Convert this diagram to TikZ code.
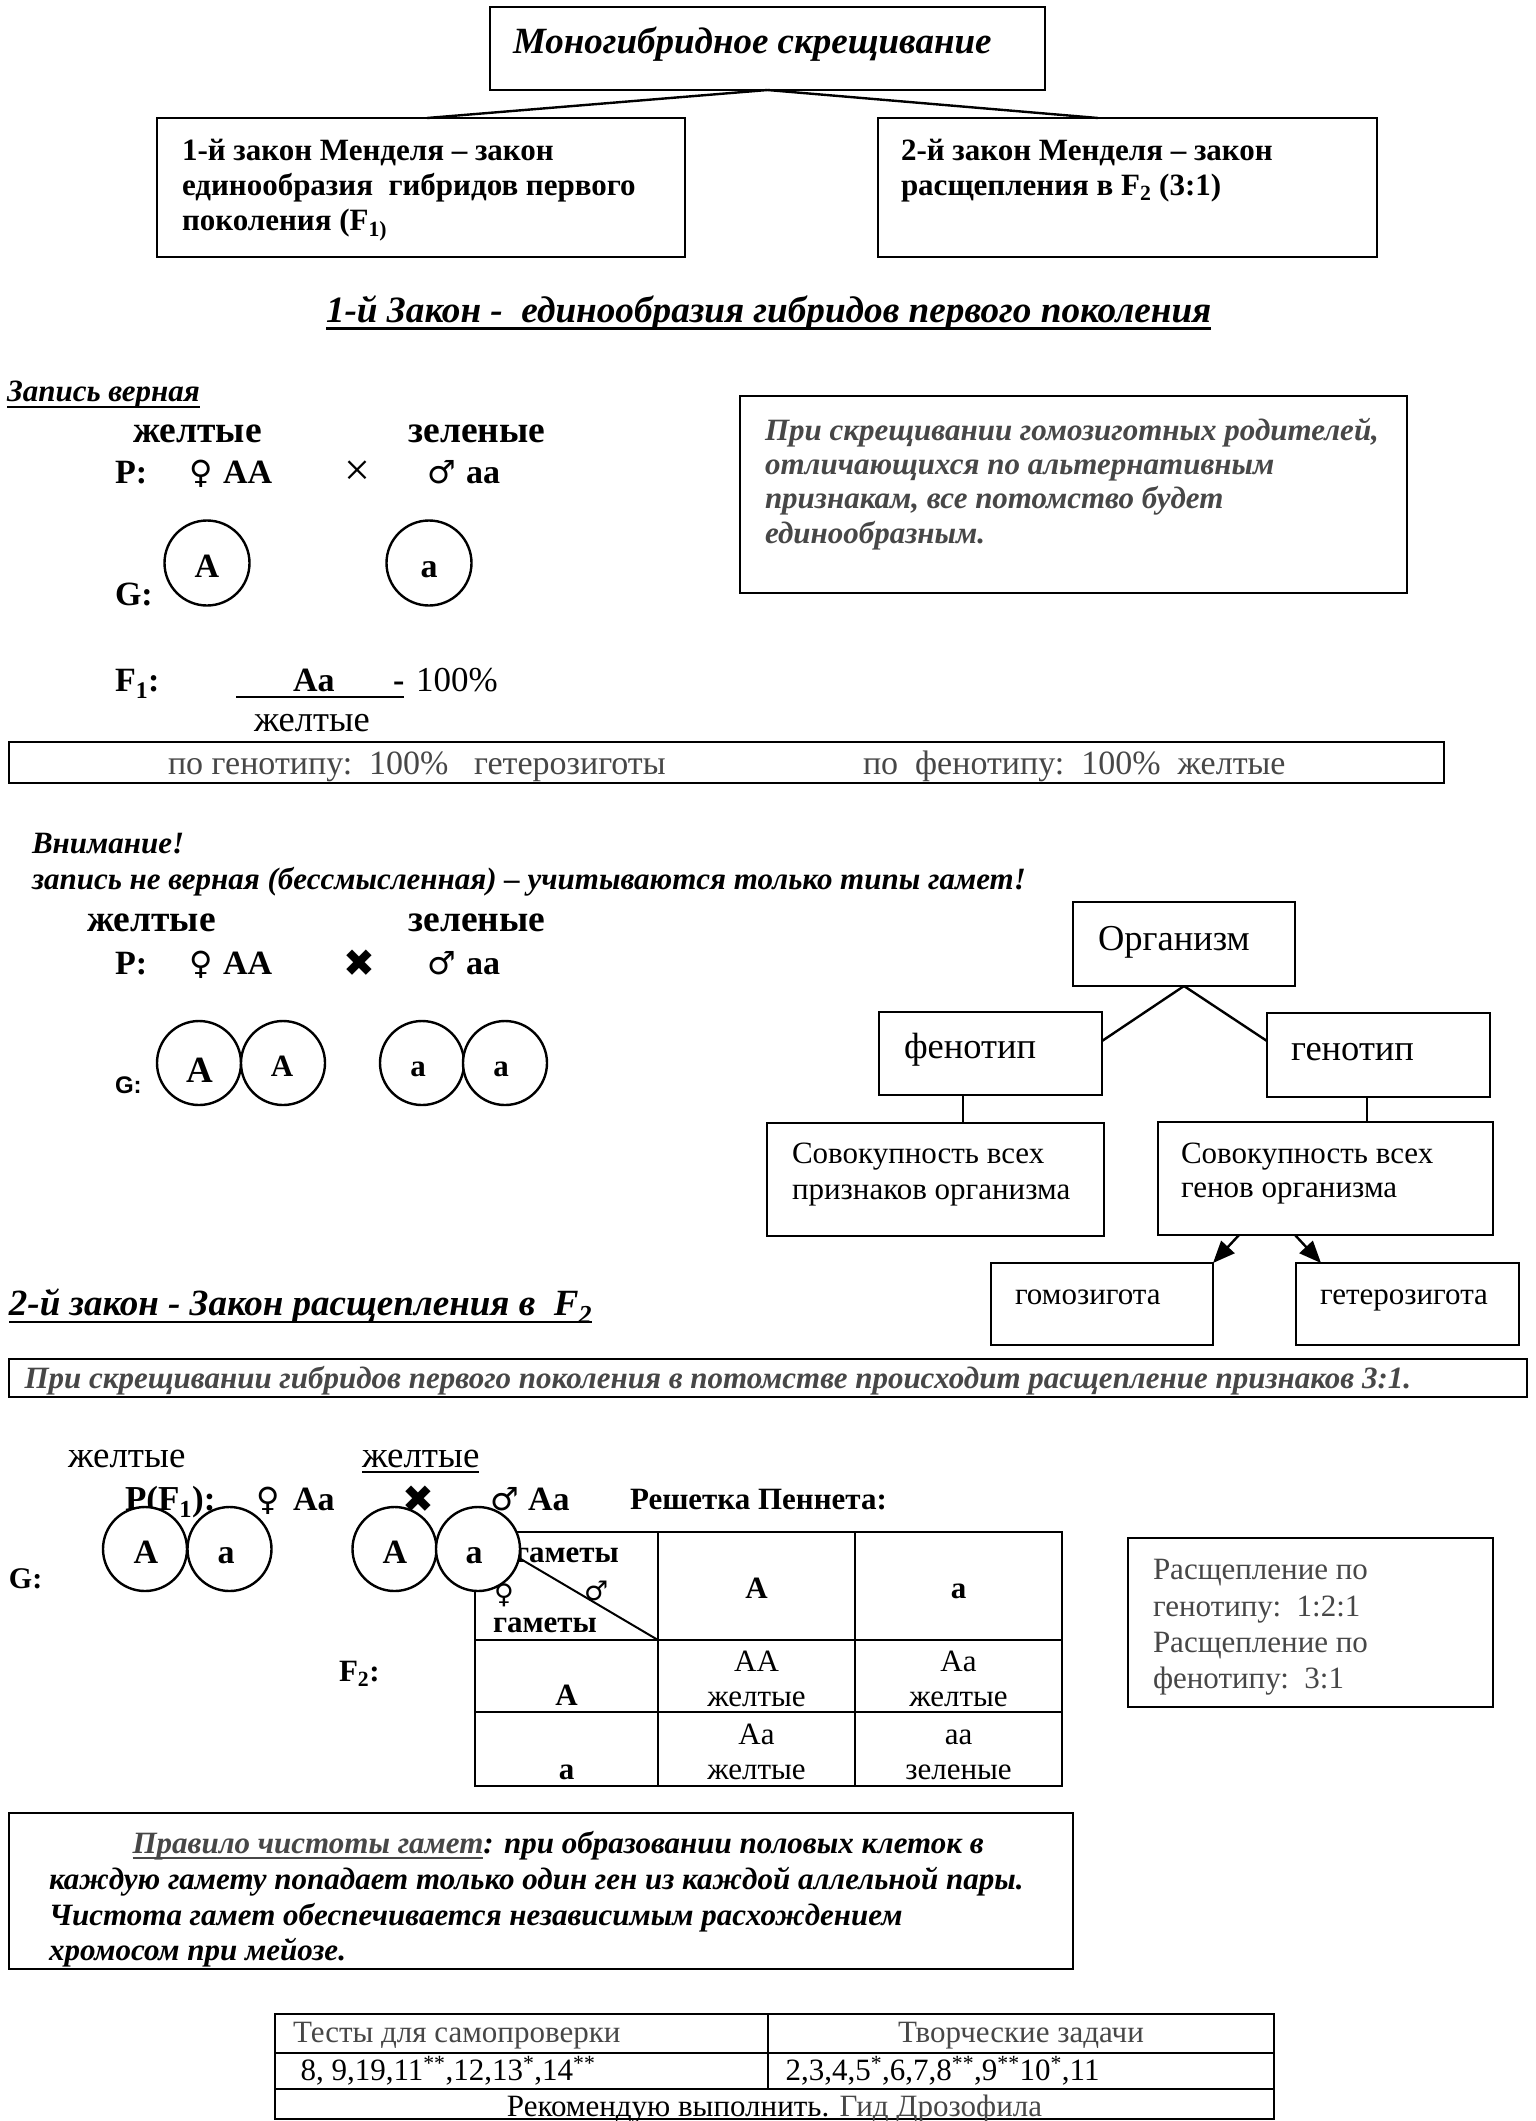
\documentclass[tikz,border=0pt]{standalone}
\usepackage{fontspec}
\setmainfont{Liberation Serif}
\newfontfamily\sansf{Liberation Sans}
\newfontfamily\djv{DejaVu Sans}
\usetikzlibrary{arrows.meta,calc}
\newcommand\fsz[1]{\fontsize{#1}{#1}\selectfont}
\definecolor{tg}{gray}{0.28}
\begin{document}
\begin{tikzpicture}[x=1pt,y=-1pt,
  every node/.style={inner sep=0pt,outer sep=0pt},
  t/.style={anchor=base west},
  tc/.style={anchor=base},
  bx/.style={draw,line width=2.6pt,anchor=north west},
  tbx/.style={draw,line width=2pt,anchor=north west},
  ln/.style={line width=2.4pt},
  tl/.style={line width=2pt},
  ul/.style={line width=2.5pt},
  gam/.style={circle,draw,line width=2.4pt,fill=white,minimum size=85pt},
  bi/.style={font=\fsz{#1}\bfseries\itshape},
  bd/.style={font=\fsz{#1}\bfseries},
  rg/.style={font=\fsz{#1}},
  sx/.style={font=\fsz{#1}\djv},
  arr/.style={line width=2.4pt,-{Triangle[length=22pt,width=18pt]}}
]
\useasboundingbox[fill=white] (0,0) rectangle (1535,2121);

% ---------- top ----------
\node[bx,minimum width=555pt,minimum height=83pt] (top) at (490,7) {};
\node[t,bi=37] (topt) at (513,53) {Моногибридное скрещивание};
\node[bx,minimum width=528pt,minimum height=139pt] (lawA) at (157,118) {};
\node[bx,minimum width=499pt,minimum height=139pt] (lawB) at (878,118) {};
\draw[ln] (top.south) -- ([xshift=6pt]lawA.north);
\draw[ln] (top.south) -- ([xshift=-29.5pt]lawB.north);
\node[t,bd=31] (la1) at (182,160) {1-й закон Менделя – закон};
\node[t,bd=31] (la2) at (182,195) {единообразия\ \ гибридов первого};
\node[t,bd=31] (la3) at (182,230) {поколения (F\textsubscript{1)}};
\node[t,bd=31] (lb1) at (901,160) {2-й закон Менделя – закон};
\node[t,bd=31] (lb2) at (901,195) {расщепления в F\textsubscript{2} (3:1)};

% ---------- law 1 ----------
\node[t,bi=37.2] (h1) at (326,322) {1-й Закон -\ \ единообразия гибридов первого поколения};
\draw[ul] ([yshift=-6.5pt]h1.base west) -- ([yshift=-6.5pt]h1.base east);
\node[t,bi=31] (zv) at (7,401) {Запись верная};
\draw[ul] ([yshift=-6pt]zv.base west) -- ([yshift=-6pt]zv.base east);

\node[t,bd=37.5] (y1) at (133,442) {желтые};
\node[t,bd=37.5] (g1) at (408.5,442) {зеленые};
\node[t,bd=34] (p1) at (115,483) {P:};
\node[t,sx=32] (f1) at (189,483) {♀};
\node[t,bd=34] (AA1) at (223,483) {AA};
\node[t,rg=46] (x1) at (344,485) {×};
\node[t,sx=32] (m1) at (427,483) {♂};
\node[t,bd=34] (aa1) at (466,483) {aa};
\node[gam] (c1) at (207,563) {};
\node[gam] (c2) at (429,563) {};
\node[tc,bd=34] (c1l) at (207,577) {A};
\node[tc,bd=34] (c2l) at (429,577) {a};
\node[t,bd=34] (G1) at (115,605) {G:};
\node[t,bd=34] (F1) at (115,691) {F\textsubscript{1}:};
\node[t,bd=34] (Aa1) at (293,691) {Aa};
\node[t,bd=34] (dash1) at (393,691) {-};
\node[t,rg=35] (pc1) at (416,691) {100\%};
\draw[ul] (236,697) -- (dash1.base east |- 0,697);
\node[t,rg=36.5] (yel2) at (254,731) {желтые};
\node[tbx,minimum width=1435pt,minimum height=41pt] (gb) at (9,742) {};
\node[t,rg=34,text=tg] (gb1) at (168,774) {по генотипу:\ \ 100\%\ \ \ гетерозиготы};
\node[t,rg=34,text=tg] (gb2) at (863,774) {по\ \ фенотипу:\ \ 100\%\ \ желтые};

\node[bx,minimum width=667pt,minimum height=197pt] (rb) at (740,396) {};
\node[t,bi=31,text=tg] (rb1) at (765,440) {При скрещивании гомозиготных родителей,};
\node[t,bi=31,text=tg] (rb2) at (765,474) {отличающихся по альтернативным};
\node[t,bi=31,text=tg] (rb3) at (765,508) {признакам, все потомство будет};
\node[t,bi=31,text=tg] (rb4) at (765,543) {единообразным.};

% ---------- wrong record ----------
\node[t,bi=31] (vn1) at (32,853) {Внимание!};
\node[t,bi=31] (vn2) at (32,889.5) {запись не верная (бессмысленная) – учитываются только типы гамет!};
\node[t,bd=37.5] (y3) at (87,931) {желтые};
\node[t,bd=37.5] (g3) at (408.5,931) {зеленые};
\node[t,bd=34] (p2) at (115,974) {P:};
\node[t,sx=32] (f2) at (189,974) {♀};
\node[t,bd=34] (AA2) at (223,974) {AA};
\node[t,font=\fsz{38}\djv] (x2) at (343,976) {✖};
\node[t,sx=32] (m2) at (427,974) {♂};
\node[t,bd=34] (aa2) at (466,974) {aa};
\node[gam,minimum size=84pt] (d1) at (199,1063) {};
\node[gam,minimum size=84pt] (d2) at (283,1063) {};
\node[gam,minimum size=84pt] (d3) at (422,1063) {};
\node[gam,minimum size=84pt] (d4) at (505,1063) {};
\node[tc,bd=37] (d1l) at (200,1082) {A};
\node[tc,bd=31] (d2l) at (282,1076) {A};
\node[tc,bd=31] (d3l) at (418,1076) {a};
\node[tc,bd=31] (d4l) at (501,1076) {a};
\node[t,font=\fsz{24}\sansf\bfseries] (G2) at (115,1093) {G:};

% ---------- organism ----------
\node[bx,minimum width=222pt,minimum height=84pt] (org) at (1073,902) {};
\node[t,rg=36.5] (orgt) at (1098,950) {Организм};
\node[bx,minimum width=223pt,minimum height=83pt] (fen) at (879,1012) {};
\node[t,rg=36.5] (fent) at (904,1058) {фенотип};
\node[bx,minimum width=223pt,minimum height=84pt] (gen) at (1267,1013) {};
\node[t,rg=36.5] (gent) at (1291,1060) {генотип};
\draw[ln] (org.south) -- ([yshift=-29pt]fen.north east);
\draw[ln] (org.south) -- ([yshift=-28pt]gen.north west);
\node[bx,minimum width=337pt,minimum height=113pt] (sovA) at (767,1123) {};
\node[t,rg=31] (sa1) at (792,1163) {Совокупность всех};
\node[t,rg=31] (sa2) at (792,1199) {признаков организма};
\node[bx,minimum width=335pt,minimum height=113pt] (sovB) at (1158,1122) {};
\node[t,rg=31] (sb1) at (1181,1163) {Совокупность всех};
\node[t,rg=31] (sb2) at (1181,1197) {генов организма};
\draw[ln] ([xshift=-27.5pt]fen.south) -- ([xshift=-27.5pt]fen.south |- sovA.north);
\draw[ln] ([xshift=-11.5pt]gen.south) -- ([xshift=-11.5pt]gen.south |- sovB.north);
\node[bx,minimum width=222pt,minimum height=82pt] (gom) at (991,1263) {};
\node[t,rg=31] (gomt) at (1015,1304) {гомозигота};
\node[bx,minimum width=223pt,minimum height=82pt] (het) at (1296,1263) {};
\node[t,rg=31] (hett) at (1320,1304) {гетерозигота};
\draw[arr] ([xshift=-86.5pt]sovB.south) -- (gom.north east);
\draw[arr] ([xshift=-30.5pt]sovB.south) -- ([xshift=25pt]het.north west);

% ---------- law 2 ----------
\node[t,bi=37] (h2) at (9,1315) {2-й закон - Закон расщепления в\ \ F\textsubscript{2}};
\draw[ul] ([yshift=-7pt]h2.base west) -- ([yshift=-7pt]h2.base east);
\node[tbx,minimum width=1518pt,minimum height=38pt] (l2b) at (9,1359) {};
\node[t,bi=31,text=tg] (l2t) at (24.5,1388.5) {При скрещивании гибридов первого поколения в потомстве происходит расщепление признаков 3:1.};

\node[t,rg=37] (y5) at (68,1467) {желтые};
\node[t,rg=37] (y6) at (362,1467) {желтые};
\draw[tl] ([yshift=-5pt]y6.base west) -- ([yshift=-5pt]y6.base east);
\node[t,bd=35] (pf) at (125,1510) {P(F\textsubscript{1}):};
\node[t,sx=32] (f3) at (256,1510) {♀};
\node[t,bd=34] (Aa3) at (293,1510) {Aa};
\node[t,font=\fsz{38}\djv] (x3) at (402,1512) {✖};
\node[t,sx=32] (m3) at (490,1510) {♂};
\node[t,bd=34] (Aa4) at (528,1510) {Aa};
\node[t,bd=31] (resh) at (630,1509) {Решетка Пеннета:};

% Punnett square
\node[tbx,minimum width=587pt,minimum height=254pt] (pt) at (475,1532) {};
\coordinate (pc) at (658,1640);
\draw[tl] (658,1532) -- (658,1786);
\draw[tl] (855,1532) -- (855,1786);
\draw[tl] (475,1640) -- (1062,1640);
\draw[tl] (475,1712) -- (1062,1712);
\draw[tl] (pt.north west) -- (pc);
\node[t,bd=31] (gm1) at (515,1562) {гаметы};
\node[t,bd=31] (gm2) at (493,1632) {гаметы};
\node[t,sx=27] (hm) at (584,1600) {♂};
\node[t,sx=27] (hf) at (494,1603) {♀};
\node[tc,bd=31] (chA) at (756.5,1598) {A};
\node[tc,bd=31] (cha) at (958.5,1598) {a};
\node[tc,bd=31] (rhA) at (566.5,1705) {A};
\node[tc,bd=31] (rha) at (566.5,1779) {a};
\node[tc,rg=31] (k11) at (756.5,1671) {AA};
\node[tc,rg=31] (k12) at (756.5,1706) {желтые};
\node[tc,rg=31] (k21) at (958.5,1671) {Aa};
\node[tc,rg=31] (k22) at (958.5,1706) {желтые};
\node[tc,rg=31] (k31) at (756.5,1744) {Aa};
\node[tc,rg=31] (k32) at (756.5,1779) {желтые};
\node[tc,rg=31] (k41) at (958.5,1744) {aa};
\node[tc,rg=31] (k42) at (958.5,1779) {зеленые};
\node[t,bd=31] (F2) at (339,1681) {F\textsubscript{2}:};
\node[gam,minimum size=84pt] (e1) at (145,1549) {};
\node[gam,minimum size=84pt] (e2) at (229.5,1549) {};
\node[gam,minimum size=84pt] (e3) at (394.5,1549) {};
\node[gam,minimum size=84pt] (e4) at (478,1549) {};
\node[tc,bd=34] (e1l) at (146,1563) {A};
\node[tc,bd=34] (e2l) at (226,1563) {a};
\node[tc,bd=34] (e3l) at (395,1563) {A};
\node[tc,bd=34] (e4l) at (474,1563) {a};
\node[t,bd=30] (G3) at (9,1588) {G:};

\node[bx,minimum width=365pt,minimum height=169pt] (sb) at (1128,1538) {};
\node[t,rg=31,text=tg] (sp1) at (1153,1579.5) {Расщепление по};
\node[t,rg=31,text=tg] (sp2) at (1153,1616) {генотипу:\ \ 1:2:1};
\node[t,rg=31,text=tg] (sp3) at (1153,1652) {Расщепление по};
\node[t,rg=31,text=tg] (sp4) at (1153,1688) {фенотипу:\ \ 3:1};

% rule box
\node[bx,minimum width=1064pt,minimum height=156pt] (rub) at (9,1813) {};
\node[t,bi=31,text=tg] (r1a) at (132.6,1853) {Правило чистоты гамет};
\draw[tl,tg] ([yshift=-5pt]r1a.base west) -- ([yshift=-5pt]r1a.base east);
\node[t,bi=31] (r1b) at (r1a.base east) {: при образовании половых клеток в};
\node[t,bi=31] (r2) at (49,1889) {каждую гамету попадает только один ген из каждой аллельной пары.};
\node[t,bi=31] (r3) at (49,1925) {Чистота гамет обеспечивается независимым расхождением};
\node[t,bi=31] (r4) at (49,1960) {хромосом при мейозе.};

% bottom table
\node[bx,line width=2.4pt,minimum width=999pt,minimum height=105pt] (bt) at (275,2014) {};
\draw[tl] (768,2014) -- (768,2089);
\draw[tl] (275,2053) -- (1274,2053);
\draw[tl] (275,2089) -- (1274,2089);
\node[t,rg=31,text=tg] (bt1) at (293,2042) {Тесты для самопроверки};
\node[tc,rg=31,text=tg] (bt2) at (1021,2042) {Творческие задачи};
\node[t,rg=31] (bt3) at (300.5,2080) {8, 9,19,11\textsuperscript{**},12,13\textsuperscript{*},14\textsuperscript{**}};
\node[t,rg=31] (bt4) at (785.6,2080) {2,3,4,5\textsuperscript{*},6,7,8\textsuperscript{**},9\textsuperscript{**}10\textsuperscript{*},11};
\node[tc,rg=31] (bt5) at (774.5,2116) {Рекомендую выполнить. \textcolor{tg}{Гид Дрозофила}};
\end{tikzpicture}
\end{document}
